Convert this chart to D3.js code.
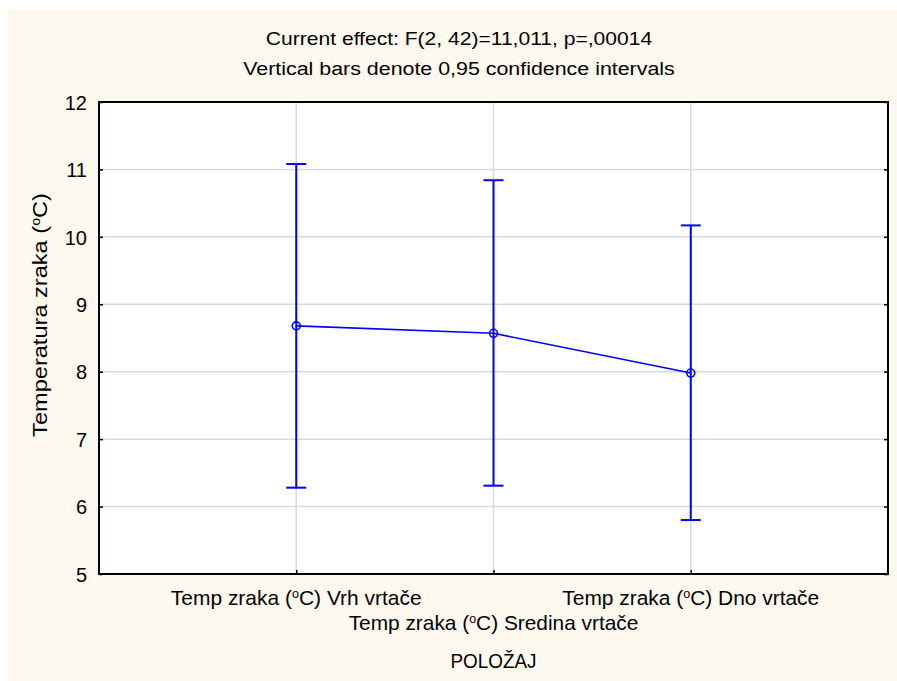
<!DOCTYPE html>
<html><head><meta charset="utf-8">
<script src="https://cdn.jsdelivr.net/npm/d3@7"></script>
<style>body{margin:0;background:#fff}svg{display:block;font-family:"Liberation Sans",Arial,sans-serif}</style>
</head><body>
<svg id="c" width="897" height="681"></svg>
<script>
const categories = ["Vrh vrtače", "Sredina vrtače", "Dno vrtače"];
const means = [8.68, 8.57, 7.98];
const lower = [6.28, 6.31, 5.80];
const upper = [11.08, 10.84, 10.17];
const yTicks = [5, 6, 7, 8, 9, 10, 11, 12];
const titleLines = ["Current effect: F(2, 42)=11,011, p=,00014", "Vertical bars denote 0,95 confidence intervals"];

const svg = d3.select("#c");
svg.append("rect").attr("x",7).attr("y",10).attr("width",890).attr("height",671).attr("fill","#FEF9EF");

const L=99, R=888, T=102, B=574;
const x = d3.scalePoint().domain(categories).range([L,R]).padding(1);
const y = d3.scaleLinear().domain([5,12]).range([B,T]);

function fitWidth(sel, w, cx, cy, vertical){
  const bb = sel.node().getBBox();
  const s = w / (vertical ? bb.height : bb.width);
  if (vertical) sel.attr("transform", `translate(${cx},${cy}) scale(1,${s}) rotate(-90)`);
  else sel.attr("transform", `translate(${cx},0) scale(${s},1) translate(${-cx},0)`);
}

svg.append("rect").attr("x",L).attr("y",T).attr("width",R-L).attr("height",B-T).attr("fill","#fff");

// grid
svg.append("g").selectAll("line").data(yTicks.slice(1,-1)).join("line")
  .attr("x1",L).attr("x2",R).attr("y1",d=>y(d)).attr("y2",d=>y(d))
  .attr("stroke","#d9d9d9").attr("stroke-width",1.5);
svg.append("g").selectAll("line").data(categories).join("line")
  .attr("x1",d=>x(d)).attr("x2",d=>x(d)).attr("y1",T).attr("y2",B)
  .attr("stroke","#d9d9d9").attr("stroke-width",1.5);

// axes
const yAxis = d3.axisLeft(y).tickValues(yTicks).tickSize(-4).tickPadding(12).tickFormat(d3.format("d"));
const gy = svg.append("g").attr("transform",`translate(${L},0)`).call(yAxis);
gy.select(".domain").remove();
gy.attr("font-size",null).attr("font-family",null);
gy.selectAll(".tick line").attr("stroke","#000").attr("stroke-width",1.5);
gy.selectAll(".tick text").attr("font-size",20).attr("fill","#000").attr("dy","0.36em");

const gyr = svg.append("g").attr("transform",`translate(${R},0)`).call(d3.axisRight(y).tickValues(yTicks).tickSize(-4).tickFormat(""));
gyr.select(".domain").remove();
gyr.selectAll(".tick line").attr("stroke","#000").attr("stroke-width",1.5);

const gx = svg.append("g").attr("transform",`translate(0,${B})`).call(d3.axisBottom(x).tickSize(-4).tickFormat(""));
gx.select(".domain").remove();
gx.selectAll(".tick line").attr("stroke","#000").attr("stroke-width",1.5);

svg.append("rect").attr("x",L).attr("y",T).attr("width",R-L).attr("height",B-T)
  .attr("fill","none").attr("stroke","#000").attr("stroke-width",2);

// x category labels, staggered
const labelW = [251, 290, 257];
categories.forEach((c,i)=>{
  const t = svg.append("text").attr("x",x(c)).attr("y", i%2===0 ? 605 : 630)
    .attr("text-anchor","middle").attr("font-size",20).attr("fill","#000");
  t.append("tspan").text("Temp zraka (");
  t.append("tspan").text("o").attr("font-size",12).attr("dy",-7);
  t.append("tspan").text("C) "+c).attr("dy",7);
  fitWidth(t, labelW[i], x(c));
});
const pol = svg.append("text").attr("x",x(categories[1])).attr("y",668).attr("text-anchor","middle")
  .attr("font-size",20).text("POLOŽAJ");
fitWidth(pol, 86, x(categories[1]));

// y label
const yl = svg.append("text").attr("x",0).attr("y",0).attr("text-anchor","middle")
  .attr("font-size",20).attr("fill","#000");
yl.append("tspan").text("Temperatura zraka (");
yl.append("tspan").text("o").attr("font-size",12).attr("dy",-7);
yl.append("tspan").text("C)").attr("dy",7);
{
  const bb = yl.node().getBBox();
  const s = 244 / bb.width;
  yl.attr("transform", `translate(47,315) rotate(-90) scale(${s},1)`);
}

// titles
titleLines.forEach((d,i)=>{
  const t = svg.append("text").attr("x",459).attr("y",45+i*30).attr("text-anchor","middle")
    .attr("font-size",19).attr("fill","#000").text(d);
  fitWidth(t, i===0 ? 387 : 432, 459);
});

// error bars
const blue = "#0000FF";
const eb = svg.append("g").attr("stroke",blue).attr("stroke-width",2);
categories.forEach((c,i)=>{
  eb.append("line").attr("x1",x(c)).attr("x2",x(c)).attr("y1",y(lower[i])).attr("y2",y(upper[i]));
  eb.append("line").attr("x1",x(c)-10).attr("x2",x(c)+10).attr("y1",y(lower[i])).attr("y2",y(lower[i]));
  eb.append("line").attr("x1",x(c)-10).attr("x2",x(c)+10).attr("y1",y(upper[i])).attr("y2",y(upper[i]));
});
svg.append("path").datum(categories.map((c,i)=>[x(c),y(means[i])]))
  .attr("d",d3.line()).attr("fill","none").attr("stroke",blue).attr("stroke-width",1.6);
svg.append("g").selectAll("circle").data(categories).join("circle")
  .attr("cx",d=>x(d)).attr("cy",(d,i)=>y(means[i])).attr("r",4)
  .attr("fill","none").attr("stroke",blue).attr("stroke-width",1.6);
</script>
</body></html>
